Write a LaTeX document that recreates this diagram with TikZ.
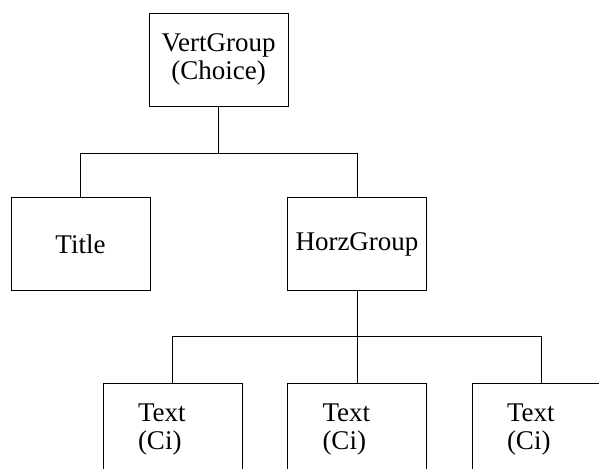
\documentclass[tikz,border=0pt]{standalone}
\usepackage{fontspec}
\setmainfont{Liberation Serif}
\begin{document}
\begin{tikzpicture}[x=1pt,y=-1pt,
  line width=0.9pt,
  box/.style={draw, rectangle, minimum width=139pt, minimum height=93pt,
    inner sep=0pt, font=\fontsize{27}{28}\selectfont},
  leafbox/.style={box, align=left, text width=69pt, inner xsep=35pt},
  wire/.style={draw, line width=0.9pt}]
  \useasboundingbox (0,0) rectangle (599,468);
  \clip (0,0) rectangle (599,468);

  % tree nodes
  \node[box, align=center] (vg) at (218.5,59.5) {VertGroup\\(Choice)};
  \node[box] (title) at (80.5,244) {Title};
  \node[box] (hg) at (357,244) {HorzGroup};
  \node[leafbox] (t1) at (172.5,429.5) {Text\\(Ci)};
  \node[leafbox] (t2) at (357,429.5) {Text\\(Ci)};
  \node[leafbox] (t3) at (541.5,429.5) {Text\\(Ci)};

  % branch points
  \coordinate (j1) at (218.5,153);
  \coordinate (j2) at (357,336);

  % connectors
  \draw[wire] (vg.south) -- (j1);
  \draw[wire] (title.north) |- (j1);
  \draw[wire] (hg.north) |- (j1);
  \draw[wire] (hg.south) -- (j2);
  \draw[wire] (t1.north) |- (j2);
  \draw[wire] (t2.north) -- (j2);
  \draw[wire] (t3.north) |- (j2);
\end{tikzpicture}
\end{document}
